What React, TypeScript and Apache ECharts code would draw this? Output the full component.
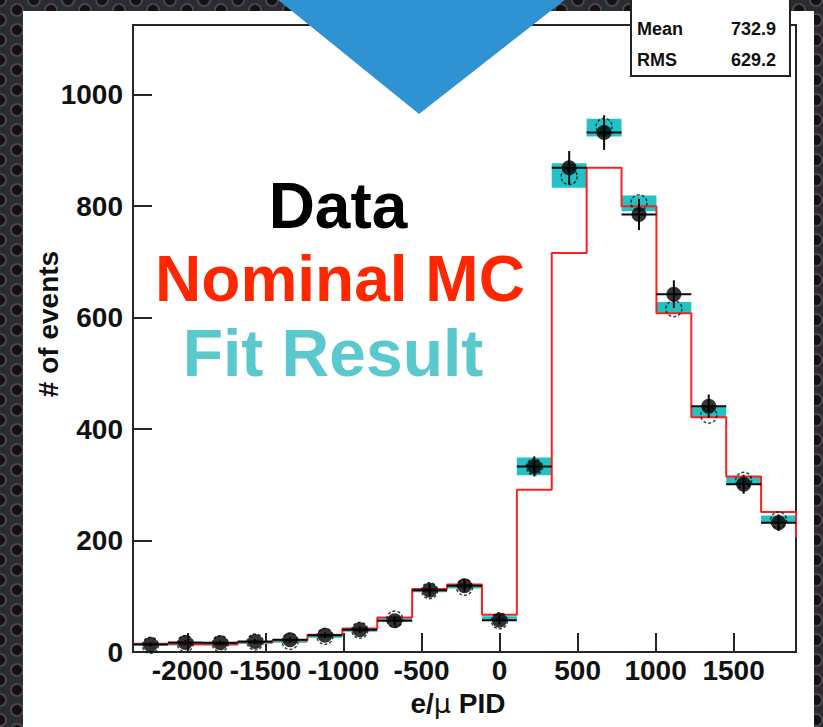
import { useEffect, useRef } from "react";
import * as echarts from "echarts";

// Histogram range and axis ticks
const X_MIN = -2350;
const X_MAX = 1900;
const Y_MAX = 1125;
const xTicks = [-2000, -1500, -1000, -500, 0, 500, 1000, 1500];
const yTicks = [0, 200, 400, 600, 800, 1000];

// Per-bin contents (19 bins across the axis range)
const dataCounts = [13.5, 17, 16.5, 19, 22, 30, 40, 56, 111, 119, 57, 333, 869, 932, 785, 642, 441, 301, 232];
const dataErrors = [4, 4, 4, 4, 5, 5, 6, 8, 11, 11, 8, 18, 30, 31, 28, 25, 21, 17, 15];
const nominalMC = [15, 14, 14, 18, 21, 31, 42, 62, 113, 121, 67, 291, 716, 869, 800, 608, 421, 315, 251];
const mcOverflow = 207;
const fitResult = [14, 14, 14, 17, 19, 28, 39, 58, 110, 117, 61, 333, 855, 941, 805, 618, 431, 307, 238];
const fitError = [2, 2, 2, 2, 2, 2, 2, 2.5, 3, 3, 3, 16, 22, 16, 14, 10, 10, 7, 7];
const fitPoints = [12, 15, 15, 18, 19, 28, 39, 59, 110, 116, 56, 332, 853, 943, 806, 616, 425, 308, 237];

const statNames = ["Mean", "RMS"];
const statValues = ["732.9", "629.2"];

const NBINS = dataCounts.length;
const binWidth = (X_MAX - X_MIN) / NBINS;
const binLow = dataCounts.map((_, i) => X_MIN + i * binWidth);
const binCenter = binLow.map((x) => x + binWidth / 2);

const FONT = '"Liberation Sans", Arial, Helvetica, sans-serif';

export default function App() {
  const ref = useRef<HTMLDivElement>(null);

  useEffect(() => {
    const chart = echarts.init(ref.current!, null, { renderer: "svg" });

    const mcLine: number[][] = [];
    binLow.forEach((x, i) => {
      mcLine.push([x, nominalMC[i]]);
      mcLine.push([x + binWidth, nominalMC[i]]);
    });
    mcLine.push([X_MAX, mcOverflow]);
    mcLine.push([X_MAX + binWidth, mcOverflow]);

    const tickStyle = { color: "#262626", width: 2 };
    const labelStyle = {
      fontSize: 28,
      fontWeight: "bold",
      fontFamily: FONT,
      color: "#111",
      formatter: (v: number) => String(v),
    };

    const bigLabel = (text: string, x: number, y: number, size: number, fill: string) => ({
      type: "text",
      z: 105,
      x,
      y,
      style: {
        text,
        fontSize: size,
        fontWeight: "bold",
        fontFamily: FONT,
        fill,
        align: "center",
        verticalAlign: "middle",
      },
    });

    const option: any = {
      animation: false,
      backgroundColor: "transparent",
      grid: {
        left: 133,
        top: 25,
        right: 27,
        bottom: 75,
        show: true,
        borderColor: "#262626",
        borderWidth: 2,
        backgroundColor: "transparent",
        outerBoundsMode: "none",
      },
      xAxis: {
        type: "value",
        min: X_MIN,
        max: X_MAX,
        splitLine: { show: false },
        axisLine: { show: false, onZero: false },
        axisTick: { show: true, inside: true, length: 19, customValues: xTicks, lineStyle: tickStyle },
        axisLabel: { ...labelStyle, customValues: xTicks, margin: 4 },
      },
      yAxis: {
        type: "value",
        min: 0,
        max: Y_MAX,
        splitLine: { show: false },
        axisLine: { show: false, onZero: false },
        axisTick: { show: true, inside: true, length: 19, customValues: yTicks, lineStyle: tickStyle },
        axisLabel: { ...labelStyle, customValues: yTicks, margin: 10 },
      },
      series: [
        {
          // fit result with its uncertainty band
          type: "custom",
          z: 1,
          data: binLow.map((x, i) => [x, x + binWidth, fitResult[i], fitError[i]]),
          encode: { x: [0, 1], y: [2] },
          renderItem: (params: any, api: any) => {
            const lo = api.value(0);
            const hi = api.value(1);
            const c = api.value(2);
            const e = api.value(3);
            const p1 = api.coord([lo, c + e]);
            const p2 = api.coord([hi, c - e]);
            return {
              type: "rect",
              shape: { x: p1[0], y: p1[1], width: p2[0] - p1[0], height: Math.max(p2[1] - p1[1], 2.5) },
              style: { fill: "#22c2c6" },
            };
          },
        },
        {
          // nominal MC histogram
          type: "line",
          z: 2,
          data: mcLine,
          showSymbol: false,
          symbol: "none",
          clip: true,
          lineStyle: { color: "#ff1e1e", width: 2 },
        },
        {
          type: "scatter",
          z: 3,
          data: binCenter.map((x, i) => [x, fitPoints[i]]),
          symbol: "circle",
          symbolSize: 16,
          itemStyle: {
            color: "rgba(0,0,0,0)",
            borderColor: "#111",
            borderWidth: 1.5,
            borderType: [3, 2],
          },
        },
        {
          // data error bars: bin width and statistical error
          type: "custom",
          z: 4,
          data: binLow.map((x, i) => [x, x + binWidth, dataCounts[i], dataErrors[i]]),
          encode: { x: [0, 1], y: [2] },
          renderItem: (params: any, api: any) => {
            const lo = api.value(0);
            const hi = api.value(1);
            const v = api.value(2);
            const e = api.value(3);
            const a = api.coord([lo, v]);
            const b = api.coord([hi, v]);
            const mid = (lo + hi) / 2;
            const t = api.coord([mid, v + e]);
            const d = api.coord([mid, v - e]);
            const st = { stroke: "#0a0a0a", lineWidth: 2 };
            return {
              type: "group",
              children: [
                { type: "line", shape: { x1: a[0], y1: a[1], x2: b[0], y2: b[1] }, style: st },
                { type: "line", shape: { x1: t[0], y1: t[1], x2: d[0], y2: d[1] }, style: st },
              ],
            };
          },
        },
        {
          type: "scatter",
          z: 5,
          data: binCenter.map((x, i) => [x, dataCounts[i]]),
          symbol: "circle",
          symbolSize: 15,
          itemStyle: { color: "#000" },
        },
      ],
      graphic: [
        {
          type: "rect",
          z: 100,
          shape: { x: 631, y: -4, width: 159, height: 80 },
          style: { fill: "#fff", stroke: "#222", lineWidth: 2 },
        },
        ...statNames.map((n, i) => ({
          type: "text",
          z: 101,
          x: 637,
          y: 28.5 + i * 31,
          style: {
            text: n,
            fontSize: 18,
            fontWeight: "bold",
            fontFamily: FONT,
            fill: "#111",
            align: "left",
            verticalAlign: "middle",
          },
        })),
        ...statValues.map((v, i) => ({
          type: "text",
          z: 101,
          x: 776,
          y: 28.5 + i * 31,
          style: {
            text: v,
            fontSize: 18,
            fontWeight: "bold",
            fontFamily: FONT,
            fill: "#111",
            align: "right",
            verticalAlign: "middle",
          },
        })),
        {
          type: "polygon",
          z: 110,
          shape: { points: [[277, -1], [566, -1], [419, 114]] },
          style: { fill: "#2f93d3" },
        },
        bigLabel("Data", 338, 206, 64, "#000"),
        bigLabel("Nominal MC", 340, 279, 64, "#ff2600"),
        bigLabel("Fit Result", 333, 353, 66, "#5ac9cd"),
        {
          type: "text",
          z: 105,
          x: 48,
          y: 324,
          rotation: Math.PI / 2,
          style: {
            text: "# of events",
            fontSize: 28,
            fontWeight: "bold",
            fontFamily: FONT,
            fill: "#111",
            align: "center",
            verticalAlign: "middle",
          },
        },
        {
          type: "text",
          z: 105,
          x: 458,
          y: 703,
          style: {
            text: "{b|e/}{m|\u03bc}{b| PID}",
            align: "center",
            verticalAlign: "middle",
            rich: {
              b: { fontSize: 28, fontWeight: "bold", fontFamily: FONT, fill: "#111" },
              m: { fontSize: 27, fontWeight: "normal", fontFamily: '"DejaVu Sans", sans-serif', fill: "#111" },
            },
          },
        },
      ],
    };

    chart.setOption(option);
    return () => chart.dispose();
  }, []);

  const hole =
    "radial-gradient(circle at 50% 50%, #1b0e12 0, #1b0e12 4.5px, #50535b 5.8px, #34363c 7px, rgba(0,0,0,0) 8px)";

  return (
    <div
      style={{
        position: "absolute",
        left: 0,
        top: 0,
        width: 823,
        height: 727,
        overflow: "hidden",
        backgroundColor: "#2a2c31",
        backgroundImage: `${hole}, ${hole}`,
        backgroundSize: "34px 20px, 34px 20px",
        backgroundPosition: "0px 0px, 17px 10px",
      }}
    >
      <div
        style={{ position: "absolute", left: 23, top: 11, width: 791, height: 716, background: "#ffffff" }}
      />
      <div ref={ref} style={{ position: "absolute", left: 0, top: 0, width: 823, height: 727 }} />
    </div>
  );
}
